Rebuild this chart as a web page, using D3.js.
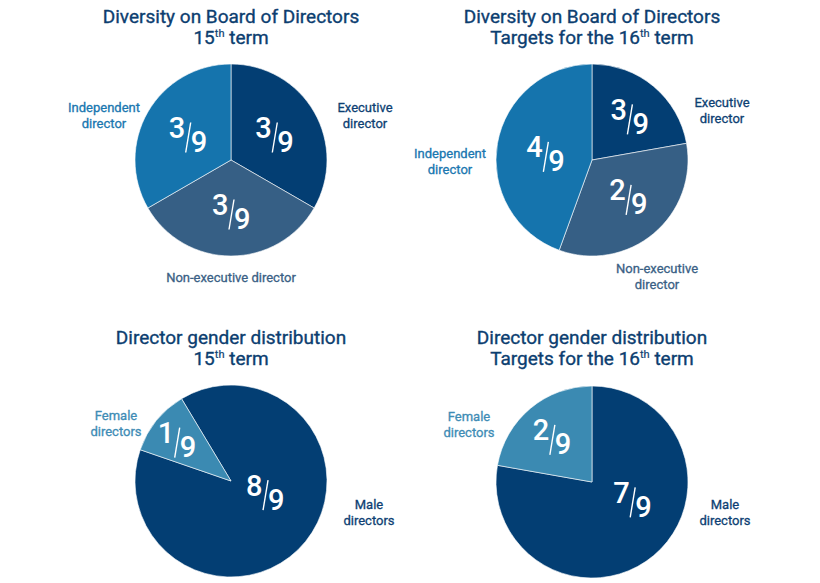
<!DOCTYPE html>
<html><head><meta charset="utf-8">
<script src="https://cdn.jsdelivr.net/npm/d3@7"></script>
<style>
html,body{margin:0;padding:0;background:#fff;}
svg{display:block;font-family:Roboto,"Noto Sans",sans-serif;}
</style></head>
<body><svg id="c" width="820" height="583"></svg>
<script>
// ---- data ----
const boardCategories = ["Executive director", "Non-executive director", "Independent director"];
const board15Values = [3, 3, 3];
const board15Labels = ["3/9", "3/9", "3/9"];
const board16Values = [2, 3, 4];
const board16Labels = ["3/9", "2/9", "4/9"];
const genderCategories = ["Male directors", "Female directors"];
const gender15Values = [8, 1];
const gender15Labels = ["8/9", "1/9"];
const gender16Values = [7, 2];
const gender16Labels = ["7/9", "2/9"];
const titles = [
  ["Diversity on Board of Directors", ["15", "th", " term"]],
  ["Diversity on Board of Directors", ["Targets for the 16", "th", " term"]],
  ["Director gender distribution", ["15", "th", " term"]],
  ["Director gender distribution", ["Targets for the 16", "th", " term"]]
];

// ---- styles / layout ----
const sliceColor = {
  "Executive director": "#033e73", "Non-executive director": "#365f85",
  "Independent director": "#1574ad", "Male directors": "#033e73", "Female directors": "#3b8ab2"
};
const textColor = {
  "Executive director": "#0d3f73", "Non-executive director": "#3a5f85",
  "Independent director": "#1a77b0", "Male directors": "#0d3f73", "Female directors": "#3e8cb5"
};
const titleColor = "#0c3e70";
const R = 96;
const svg = d3.select("#c");

const panels = [
  {cx: 231, cy: 160, tx: 231, ty: 23, cats: boardCategories, vals: board15Values, labs: board15Labels, title: titles[0], start: 0,
   names: [{x: 365, y: 112, lines: ["Executive", "director"]}, {x: 231, y: 282, lines: ["Non-executive director"]}, {x: 104, y: 112, lines: ["Independent", "director"]}],
   fr: [{k: 50}, {k: 52}, {k: 50}]},
  {cx: 592, cy: 160, tx: 592, ty: 23, cats: boardCategories, vals: board16Values, labs: board16Labels, title: titles[1], start: 0,
   names: [{x: 722, y: 107, lines: ["Executive", "director"]}, {x: 657, y: 273, lines: ["Non-executive", "director"]}, {x: 450, y: 158, lines: ["Independent", "director"]}],
   fr: [{ang: 41, k: 57}, {ang: 136, k: 52}, {ang: 277, k: 47}]},
  {cx: 231, cy: 481, tx: 231, ty: 344, cats: genderCategories, vals: gender15Values, labs: gender15Labels, title: titles[2], start: -31,
   names: [{x: 369, y: 509, lines: ["Male", "directors"]}, {x: 116, y: 420, lines: ["Female", "directors"]}],
   fr: [{ang: 109, k: 36}, {ang: 307, k: 68}]},
  {cx: 592, cy: 482, tx: 592, ty: 344, cats: genderCategories, vals: gender16Values, labs: gender16Labels, title: titles[3], start: 0,
   names: [{x: 725, y: 509, lines: ["Male", "directors"]}, {x: 469, y: 421, lines: ["Female", "directors"]}],
   fr: [{ang: 114, k: 44}, {ang: 318, k: 60}]}
];

const arc = d3.arc().innerRadius(0).outerRadius(R);

panels.forEach(p => {
  // title
  const t = svg.append("text").attr("x", p.tx).attr("y", p.ty).attr("text-anchor", "middle")
    .attr("fill", titleColor).attr("stroke", titleColor).attr("stroke-width", 0.35)
    .style("font-size", "19px").style("font-weight", 400);
  t.append("tspan").attr("x", p.tx).text(p.title[0]);
  const t2 = svg.append("text").attr("x", p.tx).attr("y", p.ty + 21).attr("text-anchor", "middle")
    .attr("fill", titleColor).attr("stroke", titleColor).attr("stroke-width", 0.35)
    .style("font-size", "19px").style("font-weight", 400);
  t2.append("tspan").text(p.title[1][0]);
  t2.append("tspan").attr("dy", -7).style("font-size", "11px").attr("stroke-width", 0.2).text(p.title[1][1]);
  t2.append("tspan").attr("dy", 7).text(p.title[1][2]);

  const pie = d3.pie().sort(null).value(d => d.v).startAngle(p.start * Math.PI / 180).endAngle(p.start * Math.PI / 180 + 2 * Math.PI);
  const data = p.cats.map((c, i) => ({c, v: p.vals[i], lab: p.labs[i], fr: p.fr[i], nm: p.names[i]}));
  const arcs = pie(data);
  const g = svg.append("g").attr("transform", `translate(${p.cx},${p.cy})`);
  g.selectAll("path").data(arcs).join("path").attr("d", arc)
    .attr("fill", d => sliceColor[d.data.c]).attr("stroke", "#ffffff").attr("stroke-width", 0.6);

  // fraction labels
  arcs.forEach(d => {
    const mid = (d.startAngle + d.endAngle) / 2;
    const a = d.data.fr.ang !== undefined ? d.data.fr.ang * Math.PI / 180 : mid;
    const k = d.data.fr.k !== undefined ? d.data.fr.k : 0.55 * R;
    const x = Math.sin(a) * k, y = -Math.cos(a) * k;
    const [num, den] = d.data.lab.split("/");
    const fg = g.append("g").attr("transform", `translate(${x},${y})`);
    fg.append("text").attr("x", -2.5).attr("y", 3).attr("text-anchor", "end").attr("fill", "#ffffff")
      .style("font-size", "29px").style("font-weight", 500).text(num);
    fg.append("line").attr("x1", 3).attr("y1", -12.5).attr("x2", -2).attr("y2", 17.5)
      .attr("stroke", "#ffffff").attr("stroke-width", 1.4);
    fg.append("text").attr("x", 3).attr("y", 17).attr("text-anchor", "start").attr("fill", "#ffffff")
      .style("font-size", "29px").style("font-weight", 500).text(den);
  });

  // category names
  data.forEach(d => {
    const nt = svg.append("text").attr("text-anchor", "middle").attr("fill", textColor[d.c])
      .attr("stroke", textColor[d.c]).attr("stroke-width", 0.3)
      .style("font-size", "13px").style("font-weight", 400);
    d.nm.lines.forEach((ln, i) => {
      nt.append("tspan").attr("x", d.nm.x).attr("y", d.nm.y + i * 16).text(ln);
    });
  });
});
</script></body></html>
